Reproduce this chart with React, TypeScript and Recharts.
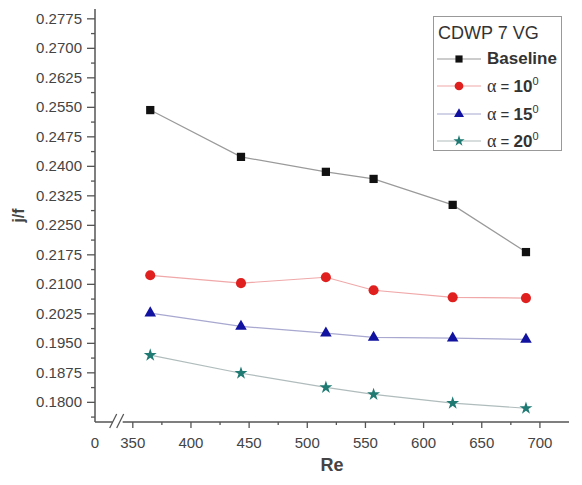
import React from 'react';
import { LineChart, Line, XAxis, YAxis, Legend, ReferenceDot, Symbols } from 'recharts';

// Reynolds numbers shared by every series
const reynolds = [365, 443, 516, 557, 625, 688];

// j/f values
const baseline = [0.2543, 0.2424, 0.2386, 0.2368, 0.2302, 0.2182];
const alpha10 = [0.2123, 0.2103, 0.2118, 0.2085, 0.2067, 0.2065];
const alpha15 = [0.2027, 0.1993, 0.1976, 0.1965, 0.1963, 0.196];
const alpha20 = [0.192, 0.1874, 0.1838, 0.182, 0.1798, 0.1785];

// axis ticks
const yMajor = [0.18, 0.1875, 0.195, 0.2025, 0.21, 0.2175, 0.225, 0.2325, 0.24, 0.2475, 0.255, 0.2625, 0.27, 0.2775];
const xMajor = [350, 400, 450, 500, 550, 600, 650, 700];
const xBreakValue = 317.5; // left end of the broken axis, labelled "0"
const xDomain = [xBreakValue, 725];
const yDomain = [0.175, 0.28];

const yMinor = [yMajor[0] - 0.00375, ...yMajor.slice(0, -1).map((v, i) => (v + yMajor[i + 1]) / 2)];
const xMinor = xMajor.slice(0, -1).map((v, i) => (v + xMajor[i + 1]) / 2);
const yTicks = [...yMinor, ...yMajor].sort((a, b) => a - b);
const xTicks = [xBreakValue, ...xMinor, ...xMajor].sort((a, b) => a - b);

const data = reynolds.map((re, i) => ({
  re,
  baseline: baseline[i],
  alpha10: alpha10[i],
  alpha15: alpha15[i],
  alpha20: alpha20[i],
}));

const AXIS = '#555';
const TICK_SIZE = 8;
const TICK_MARGIN = 5;
const FONT = '"Liberation Sans", Arial, sans-serif';

const isIn = (list: number[], v: number) => list.some((m) => Math.abs(m - v) < 1e-9);

const YTick = (props: any) => {
  const { x, y, payload } = props;
  const major = isIn(yMajor, payload.value);
  const axisX = x + TICK_MARGIN + TICK_SIZE;
  return (
    <g>
      <line x1={axisX - (major ? TICK_SIZE : 4)} x2={axisX} y1={y} y2={y} stroke={AXIS} strokeWidth={1.3} />
      {major && (
        <text x={x} y={y} dy={5} textAnchor="end" fontSize={15} fontFamily={FONT} fill="#444">
          {payload.value.toFixed(4)}
        </text>
      )}
    </g>
  );
};

const XTick = (props: any) => {
  const { x, y, payload } = props;
  const v = payload.value;
  const major = isIn(xMajor, v);
  const isBreak = Math.abs(v - xBreakValue) < 1e-9;
  const axisY = y - TICK_MARGIN - TICK_SIZE;
  return (
    <g>
      {!isBreak && (
        <line x1={x} x2={x} y1={axisY} y2={axisY + (major ? 6 : 3)} stroke={AXIS} strokeWidth={1.3} />
      )}
      {(major || isBreak) && (
        <text x={x} y={y} dy={13} textAnchor="middle" fontSize={15} fontFamily={FONT} fill="#444">
          {isBreak ? '0' : v}
        </text>
      )}
    </g>
  );
};

const AxisBreak = (props: any) => {
  const { cx, cy } = props;
  return (
    <g>
      <rect x={cx - 5} y={cy - 3} width={10} height={6} fill="#fff" />
      <line x1={cx - 8} y1={cy + 6} x2={cx - 1} y2={cy - 8} stroke={AXIS} strokeWidth={1.3} />
      <line x1={cx - 1} y1={cy + 6} x2={cx + 6} y2={cy - 8} stroke={AXIS} strokeWidth={1.3} />
    </g>
  );
};

const series = [
  { key: 'baseline', name: 'Baseline', marker: 'square', size: 68, fill: '#111', line: '#9a9a9a' },
  { key: 'alpha10', name: '10', marker: 'circle', size: 80, fill: '#e0201e', line: '#f0a8a8' },
  { key: 'alpha15', name: '15', marker: 'triangle', size: 58, fill: '#1212a0', line: '#a8a8d0' },
  { key: 'alpha20', name: '20', marker: 'star', size: 52, fill: '#1f7a73', line: '#b0bcbc' },
];

const LegendBox = () => (
  <div
    style={{
      border: '1px solid #999',
      background: '#fff',
      boxSizing: 'border-box',
      width: 129,
      height: 135,
      padding: '4px 0 0 0',
      fontFamily: FONT,
      color: '#333',
    }}
  >
    <div style={{ fontSize: 18, lineHeight: '24px', paddingLeft: 4 }}>CDWP 7 VG</div>
    {series.map((s) => (
      <div key={s.key} style={{ display: 'flex', alignItems: 'center', height: 27.5 }}>
        <svg width={50} height={20} style={{ flex: 'none' }}>
          <line x1={3} x2={47} y1={10} y2={10} stroke={s.line} strokeWidth={1.2} />
          <Symbols cx={25} cy={10} type={s.marker as any} size={s.size * 0.75} fill={s.fill} />
        </svg>
        {s.key === 'baseline' ? (
          <span style={{ fontSize: 17, fontWeight: 'bold', marginLeft: 3 }}>Baseline</span>
        ) : (
          <span style={{ fontSize: 17, marginLeft: 3, whiteSpace: 'nowrap' }}>
            <span style={{ fontFamily: '"Liberation Serif", serif', fontSize: 18 }}>α</span>
            <span style={{ fontSize: 15 }}> = </span>
            <b>{s.name}</b>
            <sup style={{ fontSize: 11 }}>0</sup>
          </span>
        )}
      </div>
    ))}
  </div>
);

export default function App() {
  return (
    <div style={{ width: 582, height: 485, background: '#fff' }}>
      <style>{`body{margin:0}`}</style>
      <LineChart width={582} height={485} data={data} margin={{ top: 9, right: 13, left: 0, bottom: 0 }}>
        <XAxis
          dataKey="re"
          type="number"
          domain={xDomain}
          ticks={xTicks}
          interval={0}
          tick={<XTick />}
          tickLine={false}
          tickSize={TICK_SIZE}
          tickMargin={TICK_MARGIN}
          height={63}
          axisLine={{ stroke: AXIS, strokeWidth: 1.5 }}
          allowDataOverflow
          label={{
            value: 'Re',
            position: 'insideBottom',
            offset: 14,
            style: { fontSize: 18, fontWeight: 'bold', fontFamily: FONT, fill: '#444' },
          }}
        />
        <XAxis xAxisId="top" orientation="top" type="number" domain={xDomain} height={0} tick={false} tickLine={false} axisLine={{ stroke: AXIS, strokeWidth: 1.5 }} />
        <YAxis
          type="number"
          domain={yDomain}
          ticks={yTicks}
          interval={0}
          tick={<YTick />}
          tickLine={false}
          tickSize={TICK_SIZE}
          tickMargin={TICK_MARGIN}
          width={95}
          axisLine={{ stroke: AXIS, strokeWidth: 1.5 }}
          allowDataOverflow
          label={{
            value: 'j/f',
            angle: -90,
            position: 'insideLeft',
            offset: 18,
            style: { fontSize: 16, fontWeight: 'bold', fontFamily: FONT, fill: '#444', textAnchor: 'middle' },
          }}
        />
        <YAxis yAxisId="right" orientation="right" type="number" domain={yDomain} width={0} tick={false} tickLine={false} axisLine={{ stroke: AXIS, strokeWidth: 1.5 }} />
        {series.map((s) => (
          <Line
            key={s.key}
            dataKey={s.key}
            name={s.name}
            type="linear"
            stroke={s.line}
            strokeWidth={1.2}
            isAnimationActive={false}
            activeDot={false}
            dot={(p: any) => (
              <Symbols key={`${s.key}-${p.index}`} cx={p.cx} cy={p.cy} type={s.marker as any} size={s.size} fill={s.fill} />
            )}
          />
        ))}
        <ReferenceDot x={337} y={yDomain[0]} r={0} ifOverflow="visible" shape={<AxisBreak />} />
        <Legend
          layout="vertical"
          align="center"
          verticalAlign="middle"
          content={<LegendBox />}
          wrapperStyle={{ left: 433, top: 16, width: 129, height: 135 }}
        />
      </LineChart>
    </div>
  );
}
